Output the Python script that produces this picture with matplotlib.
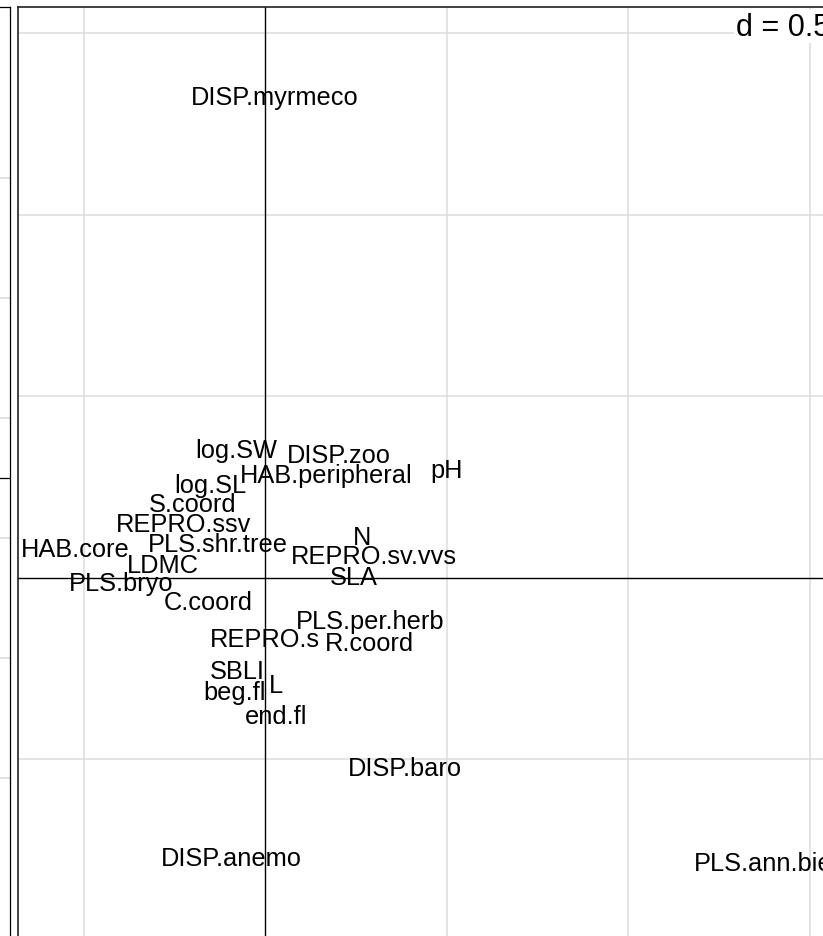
import matplotlib
matplotlib.use("Agg")
import matplotlib.pyplot as plt
from matplotlib.transforms import offset_copy

plt.rcParams['font.family'] = ['Liberation Sans', 'DejaVu Sans']

# trait labels and their coordinates on the first two axes
labels = ["DISP.myrmeco", "log.SW", "DISP.zoo", "HAB.peripheral", "pH",
          "log.SL", "S.coord", "REPRO.ssv", "PLS.shr.tree", "HAB.core",
          "LDMC", "PLS.bryo", "C.coord", "N", "REPRO.sv.vvs", "SLA",
          "PLS.per.herb", "REPRO.s", "R.coord", "SBLI", "L", "beg.fl",
          "end.fl", "DISP.baro", "DISP.anemo", "PLS.ann.bienn"]
axis1 = [0.028, -0.079, 0.204, 0.169, 0.499,
         -0.150, -0.200, -0.223, -0.129, -0.523,
         -0.280, -0.397, -0.157, 0.267, 0.300, 0.244,
         0.289, 0.001, 0.287, -0.077, 0.030, -0.085,
         0.030, 0.386, -0.094, 1.412]
axis2 = [1.328, 0.358, 0.342, 0.287, 0.303,
         0.259, 0.209, 0.154, 0.099, 0.085,
         0.041, -0.011, -0.063, 0.116, 0.066, 0.008,
         -0.113, -0.165, -0.174, -0.253, -0.292, -0.311,
         -0.377, -0.518, -0.766, -0.780]

grid_step = 0.5

# neighbouring panel (mostly cut off on the left)
left_grid = [-2.5, -1.5, -0.5, 0.5, 1.5, 2.5]


def main():
    W, H = 823, 937
    fig = plt.figure(figsize=(W / 100, H / 100), dpi=100)

    # left neighbour panel, only its right edge is visible
    axl = fig.add_axes([-400 / W, 1 - 960 / H, 410 / W, 952 / H])
    axl.set_xlim(0, 1)
    axl.set_ylim((479 - 960) / 120, (479 - 8) / 120)
    for g in left_grid:
        axl.axhline(g, color="#d9d9d9", lw=1.1, zorder=1)
    axl.axhline(0, color="black", lw=0.9, zorder=2)
    axl.set_xticks([])
    axl.set_yticks([])
    for s in axl.spines.values():
        s.set_color("black")
        s.set_linewidth(0.9)

    # main panel
    x0, x1 = 17.5, 835
    y0, y1 = 8, 960
    ax = fig.add_axes([x0 / W, 1 - y1 / H, (x1 - x0) / W, (y1 - y0) / H])
    ax.set_xlim((x0 - 265) / 363, (x1 - 265) / 363)
    ax.set_ylim((579 - y1) / 363, (579 - y0) / 363)

    gx = [i * grid_step for i in range(-1, 4)]
    gy = [i * grid_step for i in range(-2, 4)]
    for g in gx:
        if g != 0:
            ax.axvline(g, color="#dcdcdc", lw=1.1, zorder=1)
    for g in gy:
        if g != 0:
            ax.axhline(g, color="#dcdcdc", lw=1.1, zorder=1)
    ax.axhline(0, color="black", lw=1.0, zorder=2)
    ax.axvline(0, color="black", lw=1.0, zorder=2)

    # labels sit a touch lower than the box centre
    tr = offset_copy(ax.transData, fig=fig, x=0, y=-1.5, units="dots")
    for lab, x, y in zip(labels, axis1, axis2):
        ax.text(x, y, lab, ha="center", va="center", fontsize=18.3, zorder=3,
                transform=tr)

    ax.text(0.994, 0.995, "d = 0.5", transform=ax.transAxes, ha="right", va="top",
            fontsize=22, zorder=4,
            bbox=dict(facecolor="white", edgecolor="none", pad=1))

    ax.set_xticks([])
    ax.set_yticks([])
    for s in ax.spines.values():
        s.set_color("#222222")
        s.set_linewidth(1.2)

    fig.savefig("out.png", dpi=100)


main()
